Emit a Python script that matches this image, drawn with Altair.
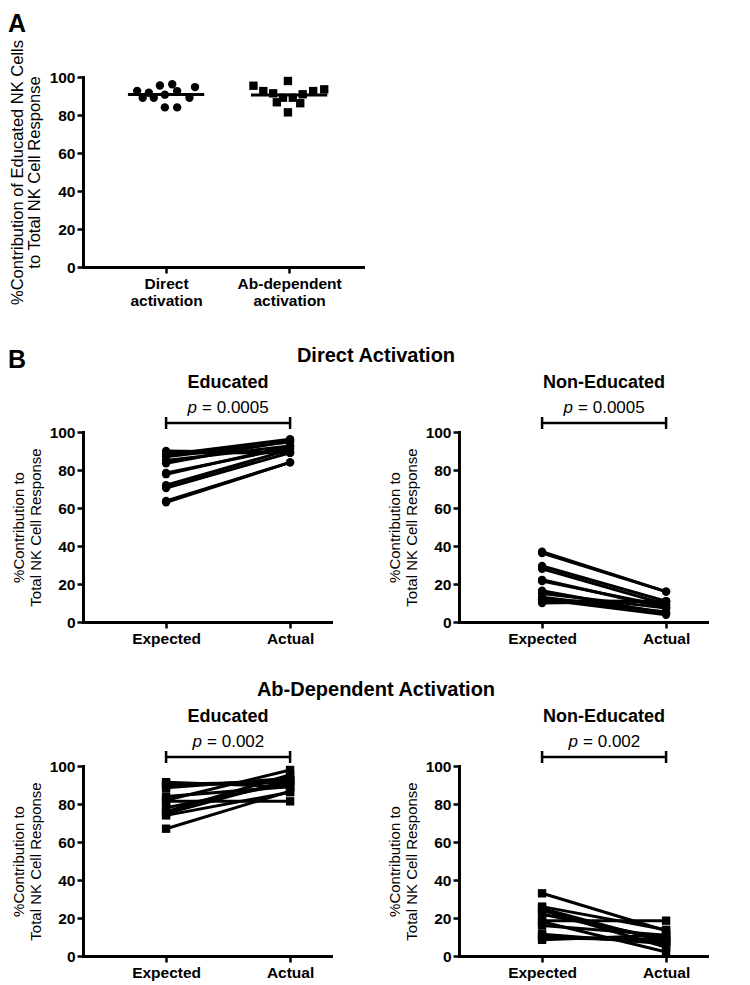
import altair as alt
import pandas as pd

FONT = "Liberation Sans"

# ---------------- Panel A data ----------------
a_categories = ["Direct activation", "Ab-dependent activation"]
a_label_lines = [["Direct", "activation"], ["Ab-dependent", "activation"]]
a_direct = [92.7, 89.1, 91.7, 89.1, 95.5, 90.7, 84.0, 96.2, 92.6, 84.0, 89.1, 94.7]
a_direct_jitter = [-0.235, -0.19, -0.14, -0.10, -0.05, -0.01, -0.01, 0.05, 0.09, 0.09, 0.19, 0.235]
a_ab = [95.4, 92.6, 91.4, 86.7, 89.1, 97.9, 81.4, 89.1, 86.2, 90.9, 92.6, 93.5]
a_ab_jitter = [-0.29, -0.21, -0.13, -0.10, -0.05, -0.01, -0.01, 0.03, 0.09, 0.11, 0.195, 0.285]

# ---------------- Panel B data ----------------
b_conditions = ["Expected", "Actual"]
direct_edu_expected = [63.0, 63.7, 70.5, 72.0, 77.8, 78.5, 83.5, 85.0, 87.0, 88.0, 89.0, 90.0]
direct_edu_actual = [84.0, 84.0, 89.1, 90.7, 92.6, 91.7, 95.5, 92.7, 94.7, 96.2, 89.1, 89.1]
direct_non_expected = [37.0, 36.3, 29.5, 28.0, 22.2, 21.5, 16.5, 15.0, 13.0, 12.0, 11.0, 10.0]
direct_non_actual = [16.0, 16.0, 10.9, 9.3, 7.4, 8.3, 4.5, 7.3, 5.3, 3.8, 10.9, 10.9]

ab_edu_expected = [67.0, 74.0, 75.0, 76.0, 78.0, 81.5, 82.0, 84.0, 88.5, 89.5, 90.5, 91.5]
ab_edu_actual = [86.7, 86.2, 92.6, 95.4, 90.9, 81.4, 97.9, 89.1, 93.5, 92.6, 91.4, 89.1]
ab_non_expected = [33.0, 26.0, 25.0, 24.0, 22.0, 18.5, 18.0, 16.0, 11.5, 10.5, 9.5, 8.5]
ab_non_actual = [13.3, 13.8, 7.4, 4.6, 9.1, 18.6, 2.1, 10.9, 6.5, 7.4, 8.6, 10.9]

p_direct = "= 0.0005"
p_ab = "= 0.002"

y_ticks = [0, 20, 40, 60, 80, 100]

# ---------------- Panel A ----------------
rows = []
for v, j in zip(a_direct, a_direct_jitter):
    rows.append({"group": a_categories[0], "idx": 1, "pos": 1 + j, "value": v})
for v, j in zip(a_ab, a_ab_jitter):
    rows.append({"group": a_categories[1], "idx": 2, "pos": 2 + j, "value": v})
dfa = pd.DataFrame(rows)

a_xscale = alt.Scale(domain=[0.325, 2.6], nice=False, zero=False)
a_yscale = alt.Scale(domain=[0, 100], nice=False)
a_label_expr = "datum.value == 1 ? %s : %s" % (
    str(a_label_lines[0]), str(a_label_lines[1]))
a_xaxis = alt.Axis(values=[1, 2], labelExpr=a_label_expr, title=None,
                   labelLineHeight=17, labelPadding=3)
a_yaxis = alt.Axis(values=y_ticks, tickCount=6, labelOverlap=False,
                   title=["%Contribution of Educated NK Cells", "to Total NK Cell Response"],
                   titleFontSize=16.5, titleLineHeight=17, titlePadding=7)

a_points = alt.Chart(dfa).mark_point(filled=True, color="black", opacity=1, size=70).encode(
    x=alt.X("pos:Q", scale=a_xscale, axis=a_xaxis),
    y=alt.Y("value:Q", scale=a_yscale, axis=a_yaxis),
    shape=alt.Shape("group:N", scale=alt.Scale(domain=a_categories, range=["circle", "square"]),
                    legend=None),
)
a_mean = alt.Chart(dfa).transform_aggregate(
    mean="mean(value)", groupby=["idx"]
).transform_calculate(
    x1="datum.idx - 0.31", x2="datum.idx + 0.31"
).mark_rule(color="black", strokeWidth=3).encode(
    x=alt.X("x1:Q", scale=a_xscale, axis=a_xaxis), x2="x2:Q",
    y=alt.Y("mean:Q", scale=a_yscale, axis=a_yaxis)
)
a_letter = alt.Chart(pd.DataFrame({"t": ["A"]})).mark_text(
    fontSize=25, fontWeight="bold", align="left", baseline="alphabetic", color="black"
).encode(text="t:N", x=alt.value(-75), y=alt.value(-45))

panel_a = alt.layer(a_points, a_mean, a_letter).properties(width=280, height=190)


# ---------------- Panel B ----------------
def b_panel(expected, actual, shape, title, ptext, pdx, section=None, letter=False):
    rows = []
    for i, (e, a) in enumerate(zip(expected, actual)):
        rows.append({"subject": i, "cond": 1, "value": e})
        rows.append({"subject": i, "cond": 2, "value": a})
    df = pd.DataFrame(rows)
    xs = alt.Scale(domain=[0.33, 2.33], nice=False, zero=False)
    ys = alt.Scale(domain=[0, 100], nice=False)
    xenc = alt.X("cond:Q", scale=xs,
                 axis=alt.Axis(values=[1, 2], title=None, labelPadding=3,
                               labelExpr="datum.value == 1 ? '%s' : '%s'" % (b_conditions[0], b_conditions[1])))
    yenc = alt.Y("value:Q", scale=ys,
                 axis=alt.Axis(values=y_ticks, labelOverlap=False,
                               title=["%Contribution to", "Total NK Cell Response"],
                               titleFontSize=15, titleLineHeight=17, titlePadding=6))
    base = alt.Chart(df)
    lines = base.mark_line(color="black", strokeWidth=3).encode(x=xenc, y=yenc, detail="subject:N")
    pts = base.mark_point(filled=True, color="black", opacity=1, size=70, shape=shape).encode(x=xenc, y=yenc)

    ends = pd.DataFrame({"cond": [1, 2]})
    bracket = alt.Chart(ends).mark_rule(color="black", strokeWidth=2.5).encode(
        x=alt.X("min(cond):Q", scale=xs), x2="max(cond):Q", y=alt.value(-9))
    bticks = alt.Chart(ends).mark_rule(color="black", strokeWidth=2.5).encode(
        x=alt.X("cond:Q", scale=xs), y=alt.value(-15), y2=alt.value(-3))

    one = pd.DataFrame({"t": [title], "p": ["p"], "v": [ptext], "c": [1.5]})
    ttl = alt.Chart(one).mark_text(fontSize=18, fontWeight="bold", baseline="middle",
                                   align="center", color="black").encode(
        x=alt.X("c:Q", scale=xs), y=alt.value(-49), text="t:N")
    pt = alt.Chart(one).mark_text(fontSize=17, fontStyle="italic", baseline="alphabetic",
                                  align="right", dx=pdx, color="black").encode(
        x=alt.X("c:Q", scale=xs), y=alt.value(-19), text="p:N")
    pv = alt.Chart(one).mark_text(fontSize=17, baseline="alphabetic", align="left",
                                  dx=pdx + 5, color="black").encode(
        x=alt.X("c:Q", scale=xs), y=alt.value(-19), text="v:N")
    layers = [lines, pts, bracket, bticks, ttl, pt, pv]
    if section is not None:
        sec = alt.Chart(pd.DataFrame({"s": [section]})).mark_text(
            fontSize=20, fontWeight="bold", baseline="middle", align="center", color="black"
        ).encode(text="s:N", x=alt.value(293), y=alt.value(-76))
        layers.append(sec)
    if letter:
        let = alt.Chart(pd.DataFrame({"s": ["B"]})).mark_text(
            fontSize=25, fontWeight="bold", baseline="alphabetic", align="left", color="black"
        ).encode(text="s:N", x=alt.value(-75), y=alt.value(-64))
        layers.append(let)
    return alt.layer(*layers).properties(width=248, height=190)


b1 = b_panel(direct_edu_expected, direct_edu_actual, "circle", "Educated", p_direct, -31,
             section="Direct Activation", letter=True)
b2 = b_panel(direct_non_expected, direct_non_actual, "circle", "Non-Educated", p_direct, -31)
b3 = b_panel(ab_edu_expected, ab_edu_actual, "square", "Educated", p_ab, -26,
             section="Ab-Dependent Activation")
b4 = b_panel(ab_non_expected, ab_non_actual, "square", "Non-Educated", p_ab, -26)

spacer = alt.Chart(pd.DataFrame({"v": [0]})).mark_point(opacity=0).encode(
    x=alt.X("v:Q", axis=None), y=alt.Y("v:Q", axis=None)
).properties(width=248, height=211)

chart = alt.concat(
    panel_a, spacer, b1, b2, b3, b4,
    columns=2, spacing={"row": 144, "column": 96}, bounds="flush", align="each",
).properties(
    padding={"left": 0, "top": 4, "right": 10, "bottom": 10}
).configure(font=FONT).configure_view(stroke=None).configure_axis(
    domainColor="black", domainWidth=3, domainCap="square",
    tickColor="black", tickWidth=2.5, tickSize=6,
    labelFont=FONT, labelFontSize=15.5, labelFontWeight="bold", labelColor="black",
    titleFont=FONT, titleFontWeight="normal", titleColor="black",
    grid=False,
)

chart.save("out.html", embed_options={"renderer": "svg", "actions": False})
